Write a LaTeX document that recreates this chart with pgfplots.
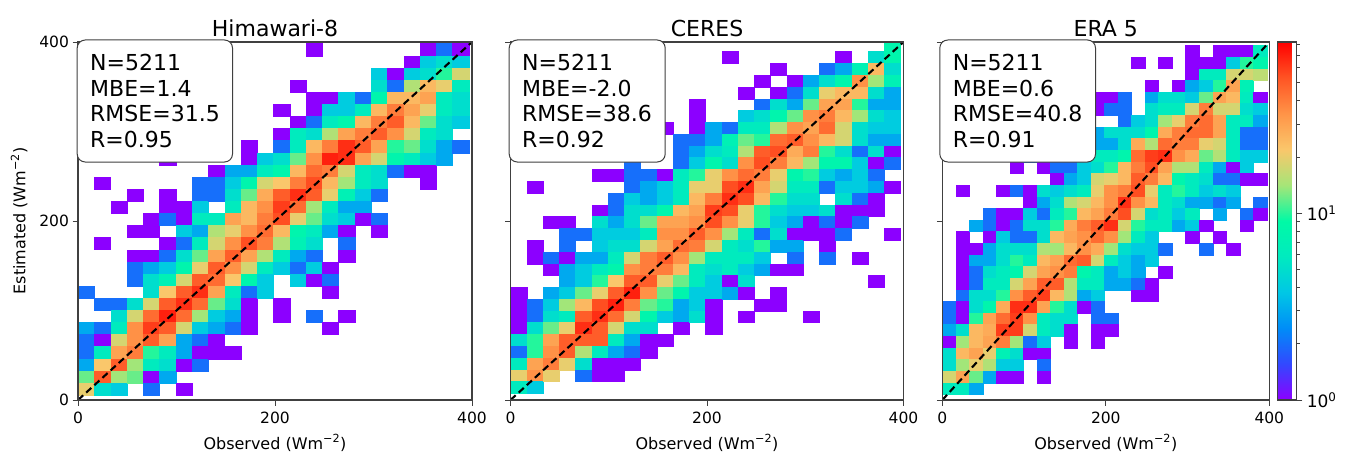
\documentclass[border=0pt]{standalone}
\usepackage{fontspec}
\setmainfont{DejaVu Sans}
\usepackage{pgfplots}
\usepackage{pgfplotstable}
\pgfplotsset{compat=1.18}

% counts per bin, top row first, 25 columns (last one cut by the axis)
\pgfplotstableread[header=false]{
0 0 0 0 0 0 0 0 0 0 0 0 0 0 0 0 0 0 2 2 1 1 1 1 0
0 0 0 0 0 0 0 0 0 0 0 0 0 0 1 0 0 0 0 0 0 1 2 1 1
0 0 0 0 0 0 0 0 0 0 0 0 0 0 0 0 0 0 0 0 1 4 5 4 4
0 0 0 0 0 0 0 0 0 0 0 0 0 0 0 0 0 0 4 1 4 5 10 18 3
0 0 0 0 0 0 0 0 0 0 0 0 0 1 0 0 0 0 5 2 15 25 20 6 1
0 0 0 0 0 0 0 0 0 0 0 0 0 0 1 1 4 2 8 25 25 30 6 5 5
0 0 0 0 0 0 0 0 0 0 0 0 1 0 1 4 4 6 25 40 30 20 6 5 5
0 0 0 0 0 0 0 0 0 0 0 0 0 1 2 6 8 25 40 50 25 12 5 4 2
0 0 0 0 0 0 0 0 0 0 0 0 1 6 5 15 30 40 50 35 18 6 5 0 2
0 0 0 0 0 0 0 0 0 0 1 0 2 6 25 40 65 50 30 10 12 5 3 2 0
0 0 0 0 0 1 0 0 0 0 1 4 5 12 35 70 65 30 18 8 6 4 3 0 0
0 0 0 0 0 0 0 0 1 3 3 6 8 25 45 40 18 6 5 2 1 1 0 0 0
0 1 0 0 0 0 0 2 2 4 8 18 22 40 55 25 14 6 5 0 0 1 0 0 0
0 0 0 1 0 1 0 2 2 5 12 28 50 65 50 20 7 4 2 0 0 0 0 0 0
0 0 1 0 0 1 1 4 0 6 25 35 60 45 14 6 3 3 0 0 0 0 0 0 0
0 0 0 0 1 2 1 6 6 30 25 40 55 20 12 5 4 1 2 0 0 0 0 0 0
0 0 0 1 1 0 4 3 15 20 35 45 25 8 6 3 1 0 1 0 0 0 0 0 0
0 1 0 0 0 1 2 6 18 35 55 40 15 7 5 0 2 0 0 0 0 0 0 0 0
0 0 0 1 1 2 5 12 30 50 30 15 6 3 2 0 1 0 0 0 0 0 0 0 0
0 0 0 2 3 4 8 20 50 35 18 6 4 2 4 1 0 0 0 0 0 0 0 0 0
0 0 0 2 5 7 18 50 45 22 8 4 0 4 1 2 0 0 0 0 0 0 0 0 0
2 0 0 0 5 22 50 65 30 6 2 4 0 0 0 1 0 0 0 0 0 0 0 0 0
0 2 2 5 18 50 65 45 12 5 1 0 1 0 0 0 0 0 0 0 0 0 0 0 0
0 0 5 18 45 70 45 14 4 3 1 0 1 0 2 0 1 0 0 0 0 0 0 0 0
3 2 6 35 60 50 18 4 3 2 1 0 0 0 0 1 0 0 0 0 0 0 0 0 0
2 1 18 35 50 30 3 2 1 0 0 0 0 0 0 0 0 0 0 0 0 0 0 0 0
2 6 30 40 10 6 3 1 1 1 0 0 0 0 0 0 0 0 0 0 0 0 0 0 0
3 22 50 14 6 5 1 2 0 0 0 0 0 0 0 0 0 0 0 0 0 0 0 0 0
12 50 14 12 1 3 0 0 0 0 0 0 0 0 0 0 0 0 0 0 0 0 0 0 0
20 5 4 0 2 0 1 0 0 0 0 0 0 0 0 0 0 0 0 0 0 0 0 0 0
}\himawari

\pgfplotstableread[header=false]{
0 0 0 0 0 0 0 0 0 0 0 0 0 0 0 0 0 0 0 0 0 0 0 8 1
0 0 0 0 0 0 0 0 0 0 0 0 0 1 0 0 0 0 0 0 1 0 5 8 1
0 0 0 0 0 0 0 0 0 0 0 0 0 0 0 0 1 0 0 2 3 7 25 5 0
0 0 0 0 0 0 0 0 0 0 0 0 0 0 0 1 0 1 3 5 8 35 14 7 2
0 0 0 0 0 0 0 0 0 0 0 0 0 0 1 0 1 2 5 20 25 25 5 3 1
0 0 0 0 0 0 0 0 0 0 0 1 0 0 0 2 5 3 12 30 30 10 3 3 4
0 0 0 0 0 0 0 0 0 0 0 1 0 0 4 5 8 12 35 40 25 14 5 4 4
0 0 0 0 0 0 0 0 0 1 0 1 3 2 6 6 15 35 30 45 18 5 4 4 4
0 0 0 0 0 0 0 0 0 0 2 2 3 7 12 10 45 50 35 25 18 5 3 3 1
0 0 0 0 0 0 0 0 0 0 2 3 5 6 15 50 55 28 40 10 5 2 5 1 0
0 0 0 0 0 0 0 2 0 0 2 4 8 5 35 55 40 25 14 8 8 4 1 2 0
0 0 0 0 0 1 1 2 2 1 6 10 20 35 45 40 20 8 10 4 3 4 2 0 1
0 1 0 0 0 0 0 2 3 4 6 20 20 55 65 30 18 6 6 2 4 4 3 1 0
0 0 0 0 0 0 2 4 3 4 6 25 40 65 55 25 10 5 5 0 5 2 1 0 0
0 0 0 0 0 1 2 5 5 8 25 30 60 55 20 10 5 4 4 5 1 1 1 0 0
0 0 1 1 0 5 3 5 12 30 30 35 55 35 20 10 4 3 1 2 1 2 0 0 0
0 0 0 2 2 4 4 4 6 35 35 50 35 14 6 2 5 1 1 1 2 0 0 1 0
0 1 0 2 0 4 5 5 18 30 45 40 18 6 5 10 3 3 0 1 0 0 0 0 0
0 1 2 1 3 3 6 18 40 50 35 14 6 6 6 4 0 2 0 2 0 1 0 0 0
0 0 1 3 4 6 8 35 40 40 25 6 5 6 4 3 1 1 0 0 0 0 0 0 0
0 0 0 3 4 10 22 50 50 20 12 6 4 1 5 0 0 0 0 0 0 0 1 0 0
1 0 3 4 12 20 50 70 35 12 8 4 4 3 1 0 1 0 0 0 0 0 0 0 0
1 2 4 14 25 55 70 40 12 10 3 4 1 0 0 1 1 0 0 0 0 0 0 0 0
1 2 5 6 50 65 45 18 8 4 3 5 1 0 1 0 0 0 1 0 0 0 0 0 0
1 5 12 20 65 50 18 5 5 0 1 0 1 0 0 0 0 0 0 0 0 0 0 0 0
5 10 30 50 50 50 6 3 1 1 0 0 0 0 0 0 0 0 0 0 0 0 0 0 0
2 10 35 50 15 6 3 2 1 0 0 0 0 0 0 0 0 0 0 0 0 0 0 0 0
6 30 40 20 5 1 1 1 0 0 0 0 0 0 0 0 0 0 0 0 0 0 0 0 0
20 35 20 0 2 1 1 0 0 0 0 0 0 0 0 0 0 0 0 0 0 0 0 0 0
6 4 0 0 0 0 0 0 0 0 0 0 0 0 0 0 0 0 0 0 0 0 0 0 0
}\ceres

\pgfplotstableread[header=false]{
0 0 0 0 0 0 0 0 0 0 0 0 0 0 0 0 0 0 1 0 1 1 1 6 2
0 0 0 0 0 0 0 0 0 0 0 0 0 0 1 0 1 0 1 1 1 4 10 8 2
0 0 0 0 0 0 0 0 0 0 0 0 0 0 0 0 0 0 1 6 6 18 18 16 0
0 0 0 0 0 0 0 0 0 0 0 0 0 0 0 1 0 1 3 4 10 30 7 0 0
0 0 0 0 0 0 0 0 0 0 0 1 1 2 0 3 5 5 4 12 30 25 6 1 2
0 0 0 0 0 0 0 0 0 0 0 1 2 2 0 5 6 6 18 40 18 18 5 4 5
0 0 0 0 0 0 0 0 0 0 0 0 0 2 4 5 14 20 40 45 30 6 6 3 5
0 0 0 0 0 0 0 0 0 0 0 3 5 5 5 8 28 40 45 45 30 6 2 2 2
0 0 0 0 0 0 0 0 0 0 0 3 3 5 28 15 45 40 40 20 18 6 2 2 2
0 0 0 0 0 2 2 0 1 1 5 6 6 8 45 60 65 35 28 12 15 6 4 4 1
0 0 0 0 0 1 0 1 2 2 4 5 10 25 40 55 30 15 15 6 3 1 4 0 0
0 0 0 0 0 0 0 0 1 3 4 18 20 25 50 40 25 8 6 5 2 2 1 1 1
0 1 0 0 1 2 1 5 4 5 6 20 35 40 55 20 6 10 6 4 5 4 0 0 1
0 0 0 0 0 0 1 3 5 15 18 25 35 65 35 25 6 5 3 3 2 3 0 2 0
0 0 0 2 1 1 4 2 6 10 25 30 40 55 18 5 6 4 6 0 3 0 2 1 0
0 0 3 2 1 2 5 5 10 28 40 50 65 18 10 6 6 3 4 1 0 0 1 0 0
0 1 0 1 4 2 2 5 25 30 35 45 35 14 6 4 0 0 1 0 1 0 0 0 0
0 1 1 3 5 5 5 15 14 25 35 28 14 5 4 4 2 0 0 2 0 1 0 0 0
0 1 3 3 5 10 6 25 30 45 50 18 6 4 3 4 0 0 0 0 0 0 0 0 0
0 1 2 5 6 8 18 30 35 40 8 6 3 4 3 0 1 0 0 0 0 0 0 0 0
0 1 2 6 6 18 30 50 50 15 6 6 3 3 2 1 0 0 0 0 0 0 0 0 0
0 2 5 5 10 35 50 60 25 15 3 4 0 0 1 1 0 0 0 0 0 0 0 0 0
2 1 5 8 28 65 65 30 10 5 1 2 0 0 0 0 0 0 0 0 0 0 0 0 0
2 1 10 30 45 60 35 6 5 5 0 2 2 0 0 0 0 0 0 0 0 0 0 0 0
3 5 25 28 60 60 18 6 5 1 0 1 1 0 0 0 0 0 0 0 0 0 0 0 0
1 14 25 30 40 14 2 4 0 1 0 1 0 0 0 0 0 0 0 0 0 0 0 0 0
5 25 30 20 7 5 1 1 0 0 0 0 0 0 0 0 0 0 0 0 0 0 0 0 0
5 14 20 15 4 4 0 2 0 0 0 0 0 0 0 0 0 0 0 0 0 0 0 0 0
18 30 12 3 1 1 0 1 0 0 0 0 0 0 0 0 0 0 0 0 0 0 0 0 0
6 6 3 0 0 0 0 0 0 0 0 0 0 0 0 0 0 0 0 0 0 0 0 0 0
}\erafive

% one filled rectangle per bin, sizes in pt (1pt = 1 image px)
\newcommand{\cellmark}[3]{\pgfdeclareplotmark{#1}{%
  \pgfpathrectangle{\pgfpoint{-#2pt}{-#3pt}}{\pgfpoint{2*#2pt}{2*#3pt}}%
  \pgfusepathqfillstroke}}
\cellmark{cellA}{8.09}{6.05}
\cellmark{cellB}{8.09}{5.89}
\cellmark{cellC}{6.76}{5.80}

% #1 table, #2 y of lowest bin edge, #3 bin height, #4 mark
\newcommand{\hist}[4]{\pgfplotsinvokeforeach{0,...,24}{
  \addplot[scatter, only marks, mark=#4, point meta=explicit,
    scatter/use mapped color={draw=mapped color, fill=mapped color},
    mark options={line width=0.15pt}]
    table[x expr={(##1+0.5)*16.53},
      y expr={\thisrowno{##1}>0 ? #2+#3*(29.5-\coordindex) : nan},
      meta expr={log10(max(\thisrowno{##1},1))}] {#1};
}}

\definecolor{spine}{gray}{0.25}
\pgfplotsset{
  colormap={sat}{rgb=(.55,0,1) rgb=(.2,.28,1) rgb=(0,.55,.97) rgb=(0,.78,.9)
    rgb=(0,.92,.75) rgb=(0,.98,.65) rgb=(.65,.9,.47) rgb=(.98,.78,.42)
    rgb=(1,.58,.28) rgb=(1,.33,.14) rgb=(1,0,0)},
  panel/.style={
    scale only axis, width=#1pt, height=358pt, anchor=south west,
    xmin=0, xmax=400, ymin=0, ymax=400,
    xtick={0,200,400}, ytick={0,200,400},
    xtick pos=bottom, ytick pos=left,
    tick align=outside, major tick length=5.5pt,
    tick style={spine, line width=1pt},
    axis line style={spine, line width=1.2pt},
    axis on top, clip mode=individual, clip marker paths=true,
    point meta min=0, point meta max=1.917,
    /pgf/number format/assume math mode=true,
    tick label style={font=\fontsize{15.5}{18}\selectfont},
    xticklabel style={yshift=-3pt},
    label style={font=\fontsize{16}{18}\selectfont},
    title style={font=\fontsize{22}{26}\selectfont, yshift=-4pt},
    xlabel={Observed (Wm\textsuperscript{−2})},
    xlabel style={yshift=-4pt},
    ylabel style={yshift=5pt},
  },
  diag/.style={black, line width=2.1pt, dash pattern=on 7pt off 4pt},
}

\newcommand{\statbox}[3]{\node[draw=spine, line width=1pt, fill=white,
  rounded corners=8pt, anchor=north west, inner xsep=13pt, inner ysep=0pt,
  text width=#2pt-26pt, minimum height=122pt, align=left,
  font=\fontsize{22}{25.5}\selectfont] at (#1,411.5) {#3};}

\begin{document}
\begin{tikzpicture}[x=1pt,y=1pt]
\path[use as bounding box] (0,0) rectangle (1346,451);

\begin{axis}[panel=394, at={(78pt,51pt)}, title={Himawari-8},
    ylabel={Estimated (Wm\textsuperscript{−2})}]
  \hist{\himawari}{5.6}{13.54}{cellA}
  \addplot[diag] coordinates {(0,0) (400,400)};
\end{axis}

\begin{axis}[panel=393, at={(510.5pt,51pt)}, title={CERES}, yticklabels={}]
  \hist{\ceres}{7.5}{13.17}{cellB}
  \addplot[diag] coordinates {(0,0) (400,400)};
\end{axis}

\begin{axis}[panel=327, at={(942.3pt,51pt)}, title={ERA 5}, yticklabels={},
    colorbar, colorbar style={
      at={(1.0245,0)}, anchor=south west, width=19pt, height=358pt,
      scale only axis,
      ytick={0,1}, yticklabels={10\textsuperscript{0},10\textsuperscript{1}},
      minor ytick={0.301,0.477,0.602,0.699,0.778,0.845,0.903,0.954,
        1.301,1.477,1.602,1.699,1.778,1.845,1.903},
      ytick pos=right,
      yticklabel style={font=\fontsize{17}{19}\selectfont, xshift=1pt},
      tick align=outside, major tick length=6pt, minor tick length=3.5pt,
      tick style={spine, line width=1pt},
      axis line style={spine, line width=1.2pt},
    }]
  \hist{\erafive}{6.3}{13.0}{cellC}
  \addplot[diag] coordinates {(0,0) (400,400)};
\end{axis}

\statbox{76.7}{155.3}{N=5211\\MBE=1.4\\RMSE=31.5\\R=0.95}
\statbox{508.7}{156}{N=5211\\MBE=-2.0\\RMSE=38.6\\R=0.92}
\statbox{939.3}{155.7}{N=5211\\MBE=0.6\\RMSE=40.8\\R=0.91}
\end{tikzpicture}
\end{document}
